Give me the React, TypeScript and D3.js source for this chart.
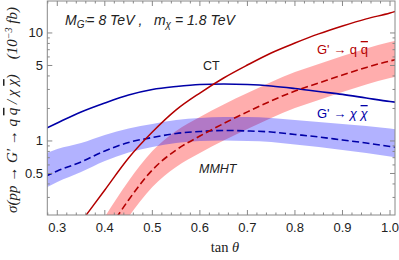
import React from "react";
import * as d3 from "d3";

// ---- data ----
const blueT = [0.275, 0.3, 0.35, 0.4, 0.45, 0.5, 0.55, 0.6, 0.65, 0.7, 0.75, 0.8, 0.85, 0.9, 0.95, 1.0, 1.015];
const blueCT = [1.3, 1.468, 1.856, 2.249, 2.666, 2.998, 3.196, 3.335, 3.37, 3.335, 3.23, 3.06, 2.87, 2.7, 2.5, 2.32, 2.28];
const blueMMHT = [0.469, 0.528, 0.639, 0.808, 0.968, 1.077, 1.173, 1.224, 1.251, 1.238, 1.211, 1.149, 1.089, 1.021, 0.958, 0.889, 0.871];
const blueUpper = [0.766, 0.843, 0.958, 1.137, 1.305, 1.437, 1.564, 1.633, 1.669, 1.669, 1.633, 1.564, 1.499, 1.437, 1.377, 1.305, 1.278];
const blueLower = [0.367, 0.417, 0.516, 0.653, 0.782, 0.88, 0.958, 1.0, 1.011, 1.0, 0.979, 0.928, 0.88, 0.826, 0.774, 0.719, 0.703];

const redCTT = [0.35, 0.4, 0.45, 0.5, 0.55, 0.6, 0.65, 0.7, 0.75, 0.8, 0.85, 0.9, 0.95, 1.0, 1.015];
const redCT = [0.178, 0.352, 0.696, 1.21, 1.94, 2.78, 3.83, 5.05, 6.53, 8.07, 9.8, 11.6, 13.5, 15.3, 16.0];

const redT = [0.4, 0.45, 0.5, 0.55, 0.6, 0.65, 0.7, 0.75, 0.8, 0.85, 0.9, 0.95, 1.0, 1.015];
const redMMHT = [0.132, 0.284, 0.539, 0.825, 1.11, 1.45, 1.86, 2.35, 2.9, 3.44, 4.08, 4.79, 5.51, 5.7];
const redUpper = [0.198, 0.426, 0.808, 1.24, 1.67, 2.18, 2.78, 3.52, 4.35, 5.16, 6.12, 7.18, 8.26, 8.5];
const redLower = [0.092, 0.198, 0.375, 0.574, 0.774, 1.01, 1.29, 1.63, 2.02, 2.4, 2.84, 3.33, 3.83, 3.95];

const xMajor = [0.3, 0.4, 0.5, 0.6, 0.7, 0.8, 0.9, 1.0];
const xMajorLabels = ["0.3", "0.4", "0.5", "0.6", "0.7", "0.8", "0.9", "1.0"];
const yMajor = [0.5, 1, 5, 10];
const yMajorLabels = ["0.5", "1", "5", "10"];
const yMinor = [0.3, 0.4, 0.6, 0.7, 0.8, 0.9, 2, 3, 4, 6, 7, 8, 9];

const W = 399, H = 260;
const L = 47.3, R = 395, T = 1, B = 215;
const S = "\u00A0";

export default function App() {
  const x = d3.scaleLinear().domain([0.279, 1.0105]).range([L, R]);
  const y = d3.scaleLog().domain([0.2063, 19.77]).range([B, T]);

  const line = (ts: number[], vs: number[]) =>
    d3.line<number>().x((_, i) => x(ts[i])).y((v) => y(v)).curve(d3.curveMonotoneX)(vs) || "";
  const band = (ts: number[], lo: number[], hi: number[]) =>
    d3
      .area<number>()
      .x((_, i) => x(ts[i]))
      .y0((_, i) => y(lo[i]))
      .y1((_, i) => y(hi[i]))
      .curve(d3.curveMonotoneX)(ts) || "";

  const xMinor = d3.range(0, 37).map((i) => 0.28 + i * 0.02).filter((v) => !xMajor.some((m) => Math.abs(m - v) < 1e-6));

  const frame = "#888";
  const red = "#b30000";
  const blue = "#0000a8";
  const sans = "'Liberation Sans', Arial, sans-serif";
  const serif = "'Liberation Serif', 'Times New Roman', serif";
  const ov = { textDecoration: "overline" } as React.CSSProperties;

  return (
    <svg width={W} height={H} style={{ position: "fixed", left: 0, top: 0, background: "#fff" }}>
      <defs>
        <clipPath id="plot">
          <rect x={L} y={T} width={R - L} height={B - T} />
        </clipPath>
        <filter id="soft" x="-5%" y="-5%" width="110%" height="110%">
          <feGaussianBlur stdDeviation="0.6" />
        </filter>
      </defs>
      <rect x={0} y={0} width={W} height={H} fill="#fff" />
      <g clipPath="url(#plot)">
        <path d={band(redT, redLower, redUpper)} fill="rgb(255,0,0)" fillOpacity={0.32} filter="url(#soft)" />
        <path d={band(blueT, blueLower, blueUpper)} fill="rgb(0,0,255)" fillOpacity={0.3} filter="url(#soft)" />
        <path d={line(blueT, blueCT)} fill="none" stroke={blue} strokeWidth={1.6} />
        <path d={line(blueT, blueMMHT)} fill="none" stroke={blue} strokeWidth={1.6} strokeDasharray="7,3.5" />
        <path d={line(redCTT, redCT)} fill="none" stroke={red} strokeWidth={1.5} />
        <path d={line(redT, redMMHT)} fill="none" stroke={red} strokeWidth={1.6} strokeDasharray="7,3.5" />
      </g>
      {/* frame */}
      <rect x={L} y={T} width={R - L} height={B - T} fill="none" stroke={frame} strokeWidth={1} />
      {/* x ticks */}
      {xMajor.map((v) => (
        <g key={"xm" + v}>
          <line x1={x(v)} x2={x(v)} y1={B} y2={B - 5} stroke={frame} />
          <line x1={x(v)} x2={x(v)} y1={T} y2={T + 5} stroke={frame} />
        </g>
      ))}
      {xMinor.map((v) => (
        <g key={"xn" + v}>
          <line x1={x(v)} x2={x(v)} y1={B} y2={B - 2.5} stroke={frame} />
          <line x1={x(v)} x2={x(v)} y1={T} y2={T + 2.5} stroke={frame} />
        </g>
      ))}
      {xMajor.map((v, i) => (
        <text key={"xl" + v} x={x(v)} y={232} textAnchor="middle" fontFamily={sans} fontSize={13} fill="#222">
          {xMajorLabels[i]}
        </text>
      ))}
      {/* y ticks */}
      {yMajor.map((v) => (
        <g key={"ym" + v}>
          <line x1={L} x2={L + 5} y1={y(v)} y2={y(v)} stroke={frame} />
          <line x1={R} x2={R - 5} y1={y(v)} y2={y(v)} stroke={frame} />
        </g>
      ))}
      {yMinor.map((v) => (
        <g key={"yn" + v}>
          <line x1={L} x2={L + 2.5} y1={y(v)} y2={y(v)} stroke={frame} />
          <line x1={R} x2={R - 2.5} y1={y(v)} y2={y(v)} stroke={frame} />
        </g>
      ))}
      {yMajor.map((v, i) => (
        <text key={"yl" + v} x={43} y={y(v) + 4.5} textAnchor="end" fontFamily={sans} fontSize={13} fill="#222">
          {yMajorLabels[i]}
        </text>
      ))}
      {/* axis titles */}
      <text x={225} y={252} textAnchor="middle" fontFamily={serif} fontSize={14.5} fill="#222">
        tan <tspan fontStyle="italic">θ</tspan>
      </text>
      <text
        transform="translate(17,110) rotate(-90)"
        textAnchor="middle"
        fontFamily={serif}
        fontSize={15}
        fontStyle="italic"
        fill="#222"
      >
        {`σ(pp${S}→${S}G'${S}→${S}q${S}`}
        <tspan style={ov}>q</tspan>
        {`${S}/${S}χ${S}`}
        <tspan style={ov}>χ</tspan>
        {`)${S}${S}${S}${S}(10`}
        <tspan dy={-5} fontSize={10}>−3</tspan>
        <tspan dy={5}>{`${S}fb)`}</tspan>
      </text>
      {/* annotations */}
      <text x={65} y={25} fontFamily={sans} fontSize={14} fontStyle="italic" fill="#222">
        M<tspan dy={3} fontSize={10}>G'</tspan>
        <tspan dy={-3}>{`=${S}8${S}TeV${S},${S}${S}${S}m`}</tspan>
        <tspan dy={3} fontSize={10}>χ</tspan>
        <tspan dy={-3}>{`${S}=${S}1.8${S}TeV`}</tspan>
      </text>
      <text x={203} y={70} fontFamily={sans} fontSize={12.5} fill="#222">CT</text>
      <text x={199} y={173} fontFamily={sans} fontSize={12.5} fontStyle="italic" fill="#222">MMHT</text>
      <text x={317} y={54} fontFamily={sans} fontSize={13} fill={red}>
        {`G'${S}→${S}q${S}`}
        <tspan style={ov}>q</tspan>
      </text>
      <text x={317} y={118} fontFamily={sans} fontSize={13} fill={blue}>
        {`G'${S}→${S}`}
        <tspan fontStyle="italic">χ</tspan>
        {S}
        <tspan fontStyle="italic" style={ov}>χ</tspan>
      </text>
    </svg>
  );
}
